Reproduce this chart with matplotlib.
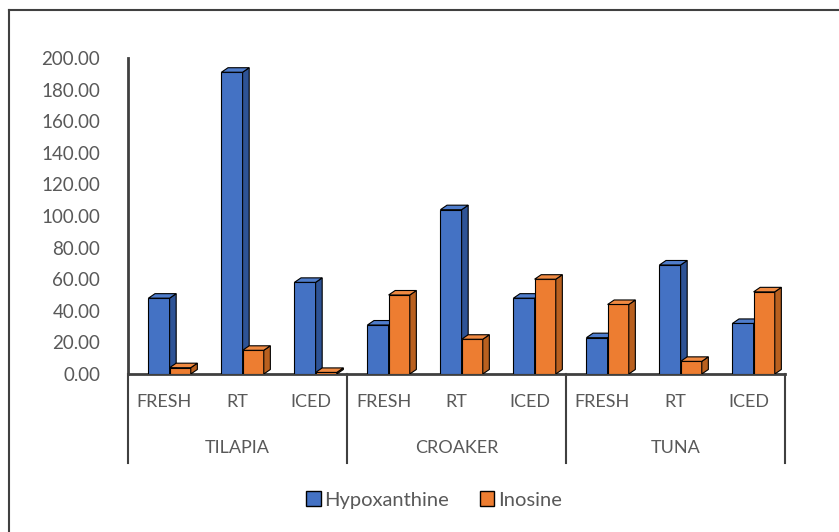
import matplotlib
matplotlib.use("Agg")
import matplotlib.pyplot as plt
from matplotlib.lines import Line2D

plt.rcParams['font.family'] = ['Lato', 'DejaVu Sans']

# Data
species = ["TILAPIA", "CROAKER", "TUNA"]
conditions = ["FRESH", "RT", "ICED"]
hypoxanthine = [48, 191, 58, 31, 104, 48, 23, 69, 32]
inosine = [4, 15, 1, 50, 22, 60, 44, 8, 52]
series_names = ["Hypoxanthine", "Inosine"]
yticks = [0, 20, 40, 60, 80, 100, 120, 140, 160, 180, 200]

# Styling
front_cols = ["#4472C4", "#ED7D31"]
side_cols = ["#2E5396", "#B9601F"]
top_cols = ["#4F7DCC", "#F08A42"]
text_col = "#595959"
axis_col = "#404040"

W, H = 839, 532
fig = plt.figure(figsize=(W / 100, H / 100), dpi=100)

ax_left, ax_right, ax_top, ax_bot = 128, 785, 58, 374
ax = fig.add_axes([ax_left / W, 1 - ax_bot / H, (ax_right - ax_left) / W, (ax_bot - ax_top) / H])

n_slots = len(species) * len(conditions)
ax.set_xlim(0, n_slots)
ax.set_ylim(0, 200)

bar_w = 0.29
start = 0.28
dx = 0.09                      # depth in x (slot units)
dy = 4.5 * 200 / (ax_bot - ax_top)  # depth in y (value units)


def bar3d(x0, h, k):
    ax.bar(x0, h, width=bar_w, align='edge', color=front_cols[k],
           edgecolor='black', linewidth=0.8, zorder=3)
    x1 = x0 + bar_w
    ax.fill([x1, x1 + dx, x1 + dx, x1], [0, dy, h + dy, h],
            facecolor=side_cols[k], edgecolor='black', linewidth=0.8, zorder=3)
    ax.fill([x0, x0 + dx, x1 + dx, x1], [h, h + dy, h + dy, h],
            facecolor=top_cols[k], edgecolor='black', linewidth=0.8, zorder=3)


for i in range(n_slots):
    x0 = i + start
    bar3d(x0, hypoxanthine[i], 0)
    bar3d(x0 + bar_w, inosine[i], 1)

# Axes styling
for s in ["top", "right"]:
    ax.spines[s].set_visible(False)
ax.spines["left"].set_color(axis_col)
ax.spines["left"].set_linewidth(2)
ax.spines["bottom"].set_color(axis_col)
ax.spines["bottom"].set_linewidth(2)
ax.set_xticks([])
ax.set_yticks(yticks)
ax.set_yticklabels([f"{v:.2f}" for v in yticks], color=text_col, fontsize=13.5)
ax.tick_params(axis='y', length=0, pad=20)

# Category / group labels and separators
tr = ax.get_xaxis_transform()
ax_h = ax_bot - ax_top
y_cat = -(402 - ax_bot) / ax_h
y_grp = -(448 - ax_bot) / ax_h
y_sep = -(463 - ax_bot) / ax_h
for i in range(n_slots):
    ax.text(i + 0.5, y_cat, conditions[i % 3], transform=tr, ha='center', va='center',
            color=text_col, fontsize=13)
for g, name in enumerate(species):
    ax.text(g * 3 + 1.5, y_grp, name, transform=tr, ha='center', va='center',
            color=text_col, fontsize=13)
for g in range(len(species) + 1):
    ax.plot([g * 3, g * 3], [0, y_sep], transform=tr, color=axis_col, lw=1.5,
            clip_on=False, zorder=1)

# Legend
handles = [plt.Rectangle((0, 0), 1, 1, facecolor=front_cols[k], edgecolor='black', linewidth=1)
           for k in range(2)]
fig.legend(handles, series_names, loc='center', bbox_to_anchor=(434 / W, 1 - 500 / H),
           ncol=2, frameon=False, fontsize=14.5, handlelength=0.7, handleheight=0.7,
           handletextpad=0.2, columnspacing=1.5, labelcolor=text_col)

# Chart border
fig.add_artist(Line2D([9 / W, 9 / W], [0, 1 - 10 / H], color=axis_col, lw=1.5))
fig.add_artist(Line2D([9 / W, 1], [1 - 10 / H, 1 - 10 / H], color=axis_col, lw=1.5))

fig.savefig("out.png", dpi=100, facecolor='white')
